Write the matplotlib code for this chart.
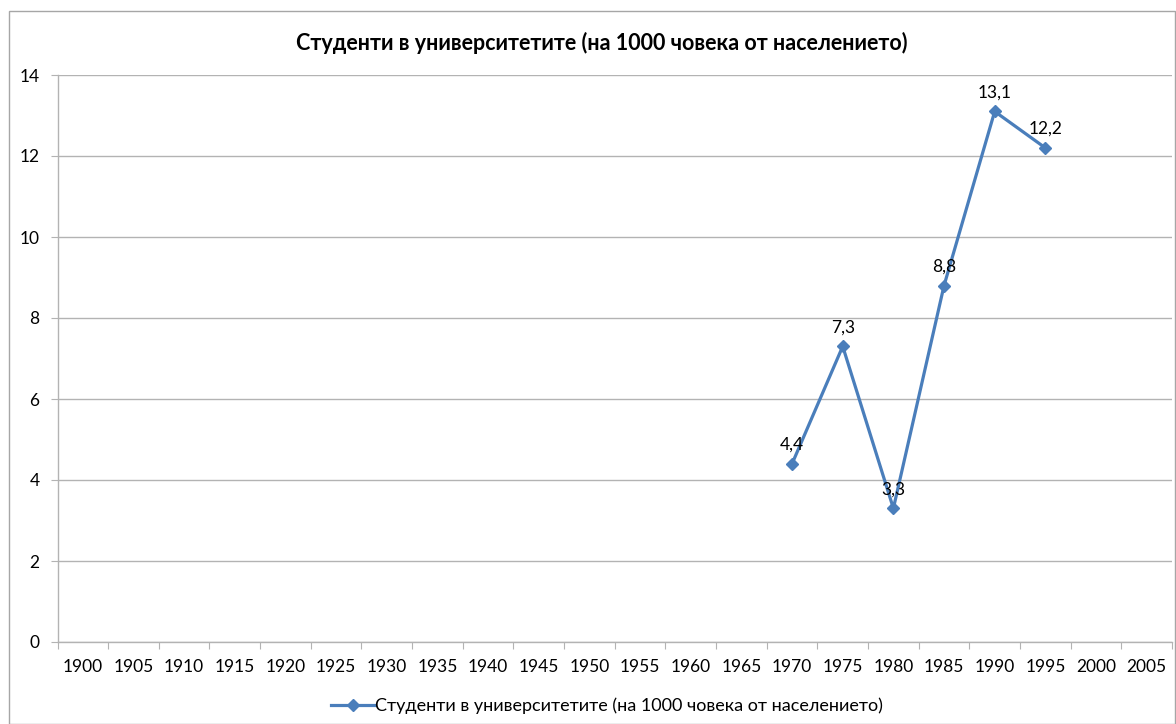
import matplotlib
matplotlib.use("Agg")
import matplotlib.pyplot as plt
from matplotlib.patches import Rectangle

categories = [str(y) for y in range(1900, 2010, 5)]
years_with_data = ["1970", "1975", "1980", "1985", "1990", "1995"]
values = [4.4, 7.3, 3.3, 8.8, 13.1, 12.2]
labels = ["4,4", "7,3", "3,3", "8,8", "13,1", "12,2"]
title = "Студенти в университетите (на 1000 човека от населението)"
series_name = "Студенти в университетите (на 1000 човека от населението)"
yticks = [0, 2, 4, 6, 8, 10, 12, 14]

plt.rcParams['font.family'] = ['Lato', 'DejaVu Sans']

W, H = 1176, 724
fig = plt.figure(figsize=(W / 100, H / 100), dpi=100)
ax = fig.add_axes([57.5 / W, 82 / H, (1172 - 57.5) / W, (642 - 75) / H])

blue = "#4a7ebb"
grid = "#b3b3b3"
fs = 12.5

xs = [categories.index(y) for y in years_with_data]
ax.plot(xs, values, color=blue, lw=2.3, marker="D", markersize=6.5,
        markerfacecolor=blue, markeredgecolor=blue, label=series_name)
for x, v, l in zip(xs, values, labels):
    ax.annotate(l, (x, v), xytext=(0, 8), textcoords="offset points",
                ha="center", va="bottom", fontsize=fs, color="black")

ax.set_xlim(-0.5, len(categories) - 0.5)
ax.set_ylim(0, 14)
ax.set_yticks(yticks)
ax.set_yticklabels([str(t) for t in yticks], fontsize=fs)
ax.yaxis.grid(True, color=grid, lw=1)
ax.set_axisbelow(True)

ax.set_xticks([i - 0.5 for i in range(len(categories) + 1)])
ax.set_xticklabels([])
ax.set_xticks(range(len(categories)), minor=True)
ax.set_xticklabels(categories, minor=True, fontsize=fs)
ax.tick_params(axis="x", which="major", length=5, color=grid, direction="out")
ax.tick_params(axis="x", which="minor", length=0, pad=12)
ax.tick_params(axis="y", length=5, color=grid, direction="out", pad=8)

for s in ["top", "right"]:
    ax.spines[s].set_visible(False)
for s in ["left", "bottom"]:
    ax.spines[s].set_color(grid)
    ax.spines[s].set_linewidth(1)

fig.text(602 / W, 1 - 43 / H, title, ha="center", va="center",
         fontsize=15.5, fontweight="bold")

leg = fig.legend(loc="center", bbox_to_anchor=(607 / W, 1 - 706 / H),
                 frameon=False, fontsize=13, handlelength=2.4,
                 handletextpad=0.0, borderpad=0)

fig.patches.append(Rectangle((9 / W, 0.5 / H), (1175 - 9) / W, (H - 11 - 0.5) / H,
                             transform=fig.transFigure, fill=False,
                             edgecolor="#a6a6a6", lw=1))

fig.savefig("out.png", dpi=100, facecolor="white")
